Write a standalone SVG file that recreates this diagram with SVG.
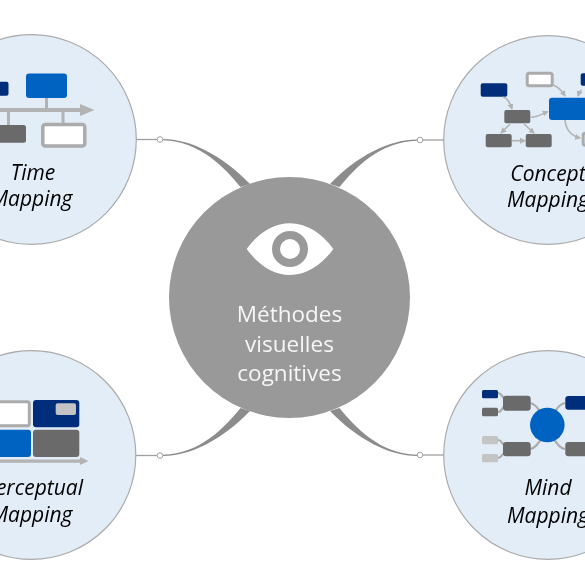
<svg xmlns="http://www.w3.org/2000/svg" width="585" height="585" viewBox="0 0 585 585">
<style>
.disc{fill:#e3edf8;stroke:#ababab;stroke-width:1.2}
.lab{font-family:"Open Sans","Liberation Sans",sans-serif;font-style:italic;font-size:21px;fill:#000;text-anchor:middle}
.core{font-family:"Open Sans","Liberation Sans",sans-serif;font-size:22.500px;fill:#f6f6f6;text-anchor:middle}
.navy{fill:#002f7a}.blue{fill:#0563c1}.dark{fill:#6a6a6a}.light{fill:#c4c4c4}
.hollow{fill:#fff;stroke:#ababab;stroke-width:3}
.bar{fill:none;stroke:#b3b3b3;stroke-width:3}
.arc{fill:none;stroke:#b3b3b3;stroke-width:1.6;marker-end:url(#tip)}
.link{fill:none;stroke:#ababab;stroke-width:2.2}
.wire{fill:none;stroke:#a0a0a0;stroke-width:1.3}
.dot{fill:#fff;stroke:#a0a0a0;stroke-width:1}
.horn{fill:#8c8c8c}
</style>
<defs>
<marker id="tip" markerWidth="7" markerHeight="7" refX="5" refY="3" orient="auto" markerUnits="userSpaceOnUse"><path d="M0,0L6,3L0,6Z" fill="#b3b3b3"/></marker>
<filter id="soft" x="-5%" y="-5%" width="110%" height="110%"><feGaussianBlur stdDeviation="0.450"/></filter>
</defs>
<g filter="url(#soft)">
<g id="connectors">
<path class="horn" d="M163,139C190,139 222,155 250,184L240.500,187C225,168 200,141 163,140.200Z"/>
<path class="wire" d="M136,139.500H157"/><circle class="dot" cx="160" cy="139.500" r="2.800"/>
<path class="horn" d="M417,139.500C390,139.500 358,155 330,184L339.500,187C355,168 380,141.500 417,140.700Z"/>
<path class="wire" d="M423,140H444"/><circle class="dot" cx="420" cy="140" r="2.800"/>
<path class="horn" d="M163,456C190,456 222,440 250,411L240.500,408C225,427 200,454 163,454.800Z"/>
<path class="wire" d="M136,455.500H157"/><circle class="dot" cx="160" cy="455.500" r="2.800"/>
<path class="horn" d="M417,456C390,456 358,440 330,411L339.500,408C355,427 380,454 417,454.800Z"/>
<path class="wire" d="M423,455H444"/><circle class="dot" cx="420" cy="455" r="2.800"/>
</g>
<g id="time-mapping">
<circle class="disc" cx="31.500" cy="139.500" r="104.800"/>
<rect class="navy" x="-8" y="81.700" width="16.500" height="14" rx="2"/>
<path class="bar" d="M46.500,98V110M8.500,110V125M63,110V123"/>
<rect class="blue" x="26" y="73.500" width="41" height="24.500" rx="3"/>
<path d="M-2,108H80V104L94.500,110L80,116V112H-2Z" fill="#b3b3b3"/>
<rect class="dark" x="-10" y="125" width="36" height="17.700" rx="2.500"/>
<rect class="hollow" x="42.800" y="124.500" width="42" height="21.500" rx="2.500" style="stroke-width:3.500"/>
<text class="lab" x="33" y="180">Time</text>
<text class="lab" x="31.500" y="206">Mapping</text>
</g>
<g id="concept-mapping">
<circle class="disc" cx="548" cy="140" r="104.300"/>
<rect class="navy" x="480.700" y="83.300" width="26.600" height="13.400" rx="2"/>
<rect class="hollow" x="527.200" y="73.200" width="25" height="12.600" rx="2"/>
<rect class="navy" x="580.700" y="73.300" width="12" height="12.400" rx="2"/>
<rect class="blue" x="549" y="97.700" width="46" height="22.300" rx="3"/>
<rect class="dark" x="504.300" y="110" width="26" height="13.300" rx="2"/>
<rect class="dark" x="485.700" y="134" width="26" height="13.300" rx="2"/>
<rect class="dark" x="525.700" y="134" width="26" height="13.300" rx="2"/>
<rect class="hollow" x="583.200" y="133.200" width="14" height="12" rx="2"/>
<path class="arc" d="M503,97C508,98 510,103 512,109"/>
<path class="arc" d="M553,85C559,87 562,91 565,96"/>
<path class="arc" d="M581.500,90C580,91 579,93 578,96"/>
<path class="arc" d="M531,117.300C538,117 542,114 547.700,111.700"/>
<path class="arc" d="M510,124L501,133"/>
<path class="arc" d="M524,124L534,133"/>
<path class="arc" d="M511.700,140.700H525"/>
<path class="arc" d="M565,120C566,130 572,136 580,138"/>
<text class="lab" x="548" y="181">Concept</text>
<text class="lab" x="548" y="207">Mapping</text>
</g>
<g id="perceptual-mapping">
<circle class="disc" cx="31.500" cy="455" r="104.300"/>
<rect class="hollow" x="-20" y="401.700" width="49.300" height="24" rx="2"/>
<rect class="navy" x="33" y="400" width="46.300" height="27.300" rx="3"/>
<rect class="light" x="55.700" y="403.300" width="20.300" height="11.700" rx="2"/>
<rect class="blue" x="-20" y="429.700" width="51" height="27.300" rx="3"/>
<rect class="dark" x="33" y="429.700" width="46.300" height="27.300" rx="3"/>
<path d="M-2,459.500H80V457L88.500,461L80,465V462.800H-2Z" fill="#b3b3b3"/>
<text class="lab" x="33.500" y="495">Perceptual</text>
<text class="lab" x="31.500" y="522">Mapping</text>
</g>
<g id="mind-mapping">
<circle class="disc" cx="548" cy="455" r="104.300"/>
<path class="link" d="M498,393C502,393 502,398 505,399M498,412C502,412 502,407 505,406M498,440C502,440 502,445 505,445M498,458C502,458 502,453 505,453M530,403C537,404 538,410 543,415M530,449C537,448 538,442 543,437M565,403C558,404 557,410 552,415M565,449C558,448 557,442 552,437"/>
<rect class="navy" x="482" y="390" width="16" height="8.300" rx="1.500"/>
<rect class="dark" x="482" y="407.700" width="16" height="8.600" rx="1.500"/>
<rect class="light" x="482" y="436" width="16" height="8.300" rx="1.500"/>
<rect class="light" x="482" y="454" width="16" height="8.300" rx="1.500"/>
<rect class="dark" x="503" y="395.700" width="27.700" height="15" rx="3"/>
<rect class="dark" x="503" y="442" width="27.700" height="14.300" rx="3"/>
<circle class="blue" cx="547.300" cy="425" r="17.300"/>
<rect class="navy" x="565.300" y="396" width="28" height="13.700" rx="3"/>
<rect class="dark" x="565.300" y="442" width="28" height="14.300" rx="3"/>
<text class="lab" x="548" y="495">Mind</text>
<text class="lab" x="548" y="522.500">Mapping</text>
</g>
<g id="methodes">
<circle cx="289.500" cy="297.500" r="120.500" fill="#999"/>
<path d="M246.700,249C258,233 274,223.300 290,223.300C306,223.300 322,233 333.300,249C322,265 306,275 290,275C274,275 258,265 246.700,249Z" fill="#fff"/>
<circle cx="290" cy="249" r="18" fill="#999"/>
<circle cx="290" cy="249" r="10" fill="#fff"/>
<text class="core" x="289.500" y="322.300">Méthodes</text>
<text class="core" x="289.500" y="351.700">visuelles</text>
<text class="core" x="289.500" y="380.700">cognitives</text>
</g>
</g>
</svg>
